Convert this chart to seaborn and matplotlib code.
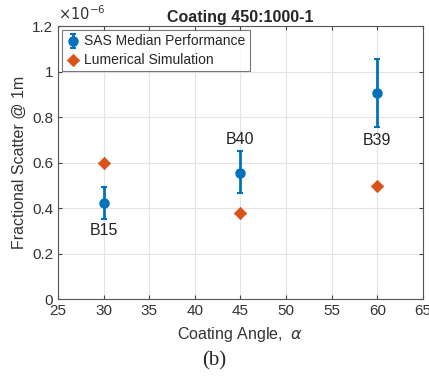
import numpy as np
import pandas as pd
import matplotlib
matplotlib.use("Agg")
import matplotlib.pyplot as plt
import seaborn as sns

# data
angles = [30, 45, 60]
sas_median = [0.422e-6, 0.556e-6, 0.908e-6]
sas_low = [0.351e-6, 0.467e-6, 0.758e-6]
sas_high = [0.494e-6, 0.650e-6, 1.055e-6]
lumerical = [0.600e-6, 0.380e-6, 0.498e-6]
sample_names = ["B15", "B40", "B39"]
label_y = [0.302e-6, 0.702e-6, 0.698e-6]

sns.set_style("ticks")
plt.rcParams["font.family"] = ["Liberation Sans", "DejaVu Sans"]

blue = "#0072BD"
orange = "#D95319"

fig = plt.figure(figsize=(4.29, 3.84), dpi=100)
ax = fig.add_axes([0.135, 0.221, 0.851, 0.711])

yerr = [np.array(sas_median) - np.array(sas_low), np.array(sas_high) - np.array(sas_median)]
ax.errorbar(angles, sas_median, yerr=yerr, fmt="o", color=blue, ms=6.5,
            elinewidth=2, capsize=2, capthick=1.5, label="SAS Median Performance", zorder=3)

df = pd.DataFrame({"angle": angles, "scatter": lumerical})
sns.scatterplot(data=df, x="angle", y="scatter", marker="D", color=orange, s=40,
                edgecolor=orange, label="Lumerical Simulation", ax=ax, zorder=3)

for a, name, y in zip(angles, sample_names, label_y):
    ax.text(a, y, name, ha="center", va="center", fontsize=11.5, color="#222222")

ax.set_xlim(25, 65)
ax.set_ylim(0, 1.2e-6)
ax.set_xticks(np.arange(25, 66, 5))
ax.set_yticks(np.arange(0, 1.21e-6, 0.2e-6))
ax.set_yticklabels(["0", "0.2", "0.4", "0.6", "0.8", "1", "1.2"])
ax.grid(True, color="#e3e3e3", linewidth=0.8)
ax.tick_params(direction="in", labelsize=11, length=3, color="#444444", top=True, right=True,
               labeltop=False, labelright=False, labelcolor="#333333")
for sp in ax.spines.values():
    sp.set_visible(True)
    sp.set_color("#555555")
    sp.set_linewidth(0.8)

ax.text(0.0, 1.01, r"$\times10^{-6}$", transform=ax.transAxes, fontsize=10.5, color="#333333",
        ha="left", va="bottom")

ax.set_title("Coating 450:1000-1", fontsize=11.5, fontweight="bold", pad=3)
ax.set_xlabel(r"Coating Angle,  $\alpha$", fontsize=11.5, labelpad=5, color="#333333")
ax.set_ylabel("Fractional Scatter @ 1m", fontsize=11.5, labelpad=4, color="#333333")

handles, labels = ax.get_legend_handles_labels()
order = [labels.index("SAS Median Performance"), labels.index("Lumerical Simulation")]
leg = ax.legend([handles[i] for i in order], [labels[i] for i in order],
                loc="upper left", fontsize=10, frameon=True, fancybox=False,
                borderaxespad=0.3, handletextpad=0.3, borderpad=0.3, labelspacing=0.3,
                handlelength=1.0)
leg.get_frame().set_edgecolor("#555555")
leg.get_frame().set_linewidth(0.8)

fig.text(0.5, 0.06, "(b)", ha="center", va="center", fontsize=15, family="Liberation Serif")

fig.savefig("out.png", dpi=100)
